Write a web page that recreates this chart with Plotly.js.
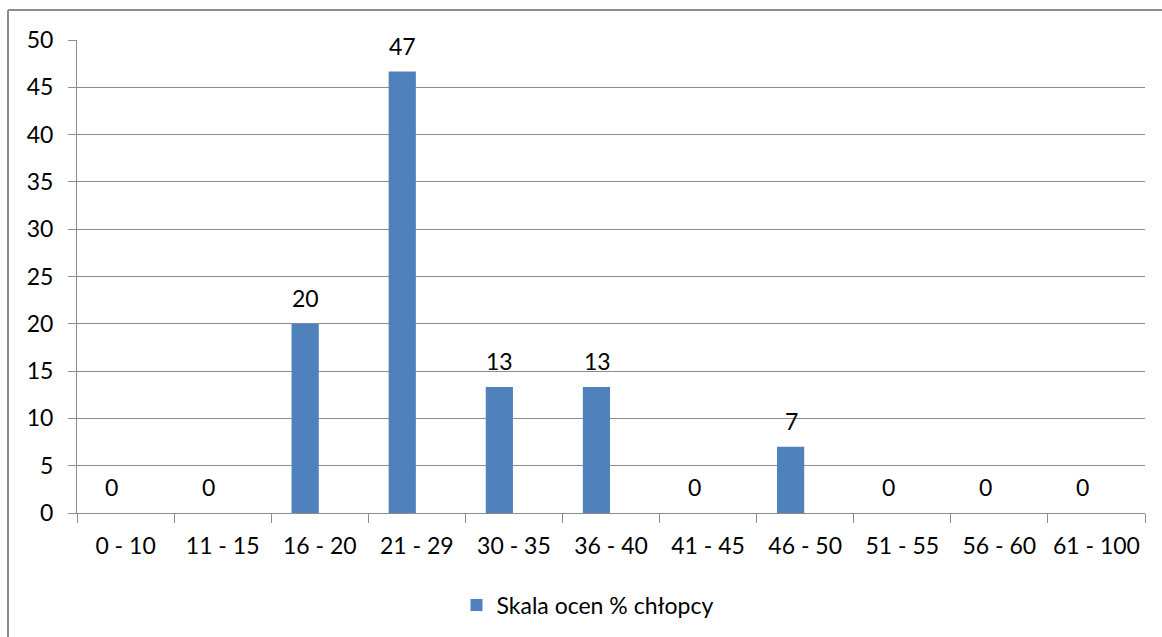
<!DOCTYPE html>
<html>
<head>
<meta charset="utf-8">
<script src="https://cdn.plot.ly/plotly-3.0.1.min.js"></script>
<style>html,body{margin:0;padding:0;background:#fff;}#chart{width:1162px;height:637px;}</style>
</head>
<body>
<div id="chart"></div>
<script>
const categories = ["0 - 10","11 - 15","16 - 20","21 - 29","30 - 35","36 - 40","41 - 45","46 - 50","51 - 55","56 - 60","61 - 100"];
const values = [0, 0, 20, 46.67, 13.33, 13.33, 0, 7, 0, 0, 0];
const seriesName = "Skala ocen % chłopcy";
const yTicks = [0,5,10,15,20,25,30,35,40,45,50];

const FONT = "Lato, 'Open Sans', sans-serif";
const FS = 23;
const TXT = "#000000";
const GRID = "#8c8c8c";

const trace = {
  type: "bar",
  x: categories,
  y: values,
  name: seriesName,
  width: 0.28,
  offset: -0.29,
  marker: {color: "#4F81BD", line: {width: 0}},
  showlegend: true,
  hoverinfo: "x+y"
};

const annotations = categories.map((c, i) => ({
  x: c, y: values[i], xref: "x", yref: "y",
  text: String(Math.round(values[i])),
  showarrow: false, yshift: 26, xshift: -14,
  font: {family: FONT, size: FS, color: TXT}
}));

const layout = {
  width: 1162, height: 637,
  margin: {l: 77, r: 17, t: 40, b: 123},
  paper_bgcolor: "#ffffff", plot_bgcolor: "#ffffff",
  font: {family: FONT, size: FS, color: TXT},
  xaxis: {
    type: "category",
    showgrid: false,
    showline: true, linecolor: GRID, linewidth: 1,
    ticks: "outside", ticklen: 9, tickcolor: GRID, tickwidth: 1,
    tickson: "boundaries",
    tickfont: {family: FONT, size: FS, color: TXT},
    ticklabelstandoff: 12,
    fixedrange: true
  },
  yaxis: {
    range: [0, 50],
    tickvals: yTicks,
    ticktext: yTicks.map(String),
    showgrid: true, gridcolor: GRID, gridwidth: 1,
    zeroline: false,
    showline: true, linecolor: GRID, linewidth: 1,
    ticks: "outside", ticklen: 8, tickcolor: GRID, tickwidth: 1,
    tickfont: {family: FONT, size: FS, color: TXT},
    ticklabelstandoff: 10,
    fixedrange: true
  },
  legend: {
    orientation: "h",
    x: 0.478, xanchor: "center",
    y: -0.192, yanchor: "middle",
    itemwidth: 30,
    font: {family: FONT, size: FS, color: TXT},
    bgcolor: "rgba(0,0,0,0)"
  },
  annotations: annotations,
  shapes: [
    {type: "line", xref: "paper", yref: "paper", x0: -0.0646, x1: 1.05, y0: 1.0633, y1: 1.0633, line: {color: "#8c8c8c", width: 2}},
    {type: "line", xref: "paper", yref: "paper", x0: -0.0646, x1: -0.0646, y0: 1.0633, y1: -0.3, line: {color: "#8c8c8c", width: 2}}
  ],
  showlegend: true
};

Plotly.newPlot("chart", [trace], layout, {displayModeBar: false, staticPlot: true});
</script>
</body>
</html>
